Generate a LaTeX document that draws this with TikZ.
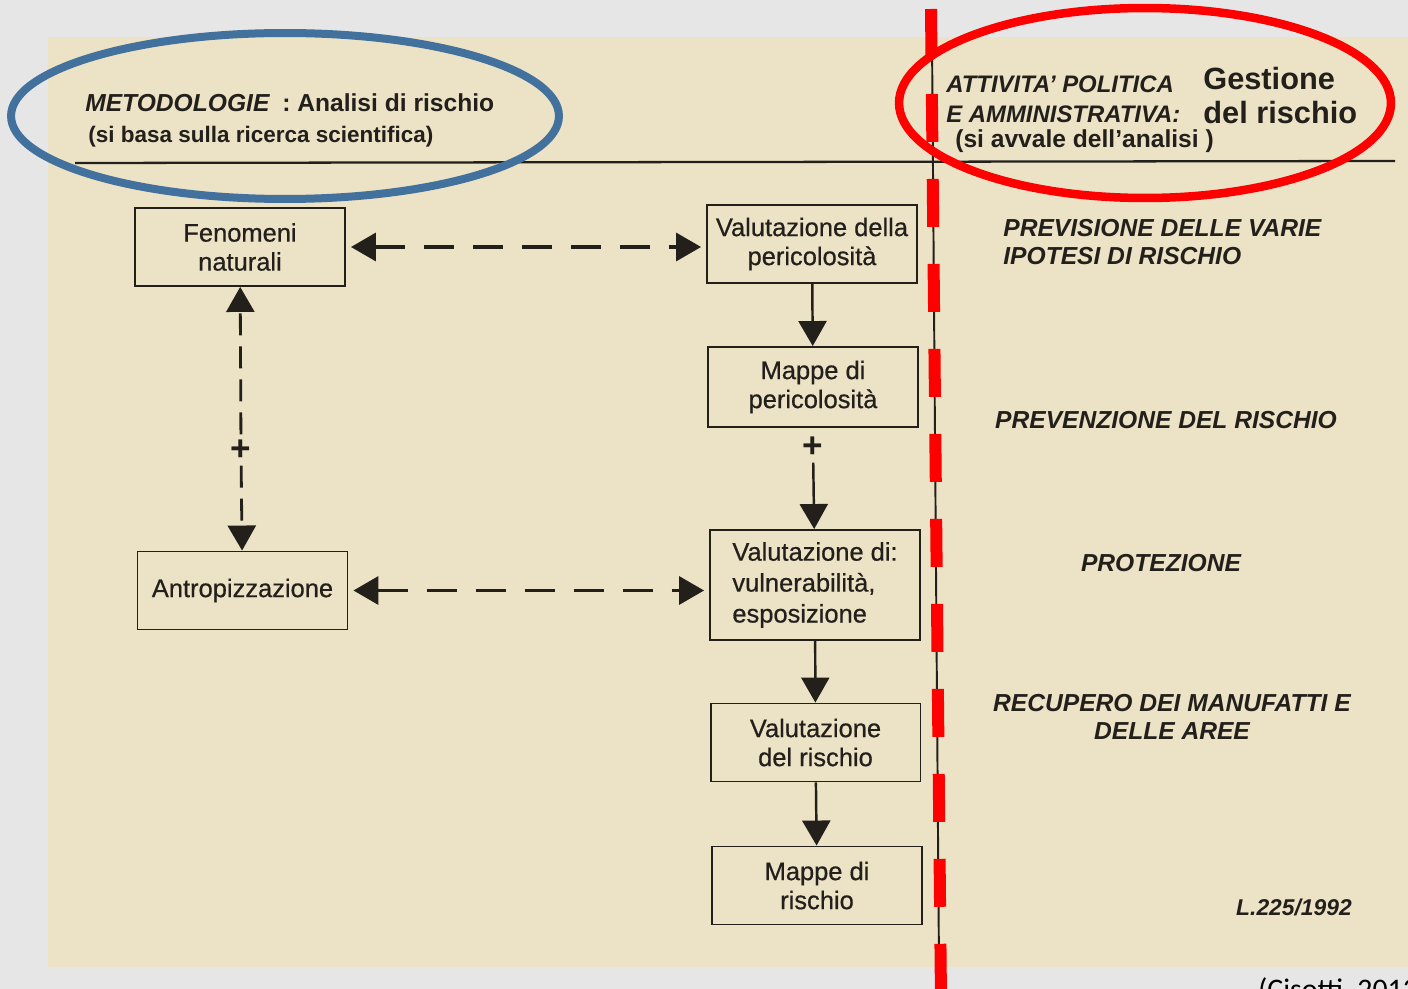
\documentclass[tikz,border=0pt]{standalone}
\usepackage{fontspec}
\setmainfont{Liberation Sans}
\newfontfamily\boxfont[FakeBold=0.6]{Liberation Sans}
\newfontfamily\creditfont{Carlito}
\usetikzlibrary{positioning, arrows.meta}
\definecolor{outerbg}{RGB}{230,230,230}
\definecolor{pagebg}{RGB}{236,226,198}
\definecolor{ink}{RGB}{35,32,28}
\definecolor{ellblue}{RGB}{65,113,156}

\begin{document}
\begin{tikzpicture}[x=0.02cm, y=-0.02cm, >={Triangle[length=0.5cm,width=0.56cm]},
  box node/.style={rectangle, draw=ink, line width=1.1pt, text=ink, align=center,
    minimum width=4.2cm, minimum height=1.56cm, font=\boxfont\fontsize{14.5}{16.5}\selectfont},
  head text/.style={text=ink, inner sep=0pt, font=\bfseries\fontsize{14}{16}\selectfont},
  task text/.style={text=ink, inner sep=0pt, align=center, font=\bfseries\itshape\fontsize{14}{16}\selectfont},
  plus sign/.style={text=ink, inner sep=0.1cm, font=\bfseries\fontsize{20}{20}\selectfont},
  solid link/.style={->, ink, line width=1.4pt},
  dash link/.style={<->, ink, line width=2pt, dash pattern=on 0.6cm off 0.38cm,
    shorten <=0.1cm, shorten >=0.1cm},
  vert link/.style={->, ink, line width=1.6pt, dash pattern=on 0.44cm off 0.22cm}]

% scanned page
\fill[outerbg] (0,0) rectangle (1408,989);
\useasboundingbox (0,0) rectangle (1408,989);
\fill[pagebg] (48,37) rectangle (1408,967);
\draw[ink, line width=1.3pt] (75,163) -- (1395,161);
\draw[ink, line width=1.1pt] (932,40) -- (939,967);

% headers
\node[head text, anchor=base west] (metod) at (85,112) {\textit{METODOLOGIE}\enspace: Analisi di rischio};
\node[head text, anchor=base west, font=\bfseries\fontsize{12.8}{15}\selectfont] (basa) at (88,143) {(si basa sulla ricerca scientifica)};
\node[head text, anchor=base west, font=\bfseries\itshape\fontsize{13.6}{16}\selectfont] (attiv) at (946,93) {ATTIVITA' POLITICA};
\node[head text, anchor=base west, font=\bfseries\itshape\fontsize{13.6}{16}\selectfont] (ammin) at (946,123) {E AMMINISTRATIVA:};
\node[head text, anchor=base west] (avvale) at (955,148) {(si avvale dell'analisi )};
\node[head text, anchor=base west, font=\bfseries\fontsize{17.5}{20}\selectfont] (gest) at (1203,90) {Gestione};
\node[head text, anchor=base west, font=\bfseries\fontsize{17.5}{20}\selectfont] (delr) at (1203,124) {del rischio};

% boxes
\node[box node] (fen) at (240,247) {Fenomeni\\naturali};
\node[box node] (valp) at (812,244) {Valutazione della\\pericolosità};
\node[box node, minimum height=1.6cm] (mapp) at (813,387) {Mappe di\\pericolosità};
\node[box node, minimum height=2.2cm, align=left, font=\boxfont\fontsize{14.5}{17.6}\selectfont] (valv) at (815,585) {Valutazione di:\\vulnerabilità,\\esposizione};
\node[box node] (valr) at (815.5,742.5) {Valutazione\\del rischio};
\node[box node] (mapr) at (817,885.5) {Mappe di\\rischio};
\node[box node] (antr) at (242.5,590.5) {Antropizzazione};

\node[plus sign] (plusl) at (241,450) {+};
\node[plus sign] (plusr) at (813,447) {+};

% links
\draw[dash link] (fen) -- (fen -| valp.west);
\draw[dash link] (antr) -- (antr -| valv.west);
\draw[vert link] (plusl) -- (fen);
\draw[vert link] (plusl) -- (antr);
\draw[solid link] (valp) -- (mapp);
\draw[solid link] (plusr) -- (valv);
\draw[solid link] (valv) -- (valr);
\draw[solid link] (valr) -- (mapr);

% actions
\node[task text, anchor=west, align=left] (prev) at (1003,242) {PREVISIONE DELLE VARIE\\IPOTESI DI RISCHIO};
\node[task text] (preven) at (1166,420) {PREVENZIONE DEL RISCHIO};
\node[task text] (prot) at (1161,563) {PROTEZIONE};
\node[task text] (recup) at (1172,717) {RECUPERO DEI MANUFATTI E\\DELLE AREE};
\node[task text, font=\bfseries\itshape\fontsize{13}{15}\selectfont] (legge) at (1294,907) {L.225/1992};

% highlights
\draw[ellblue, line width=0.16cm] (285,116) ellipse [x radius=5.48cm, y radius=1.66cm];
\draw[red, line width=0.17cm] (1145,103) ellipse [x radius=4.92cm, y radius=1.9cm];
\draw[red, line width=0.24cm, dash pattern=on 0.96cm off 0.74cm] (931,9) -- (941,1000);

\node[anchor=north west, inner sep=0pt, text=black, font=\creditfont\fontsize{17}{20}\selectfont] (credit) at (1258,977) {(Cisotti, 2013)};
\end{tikzpicture}
\end{document}
